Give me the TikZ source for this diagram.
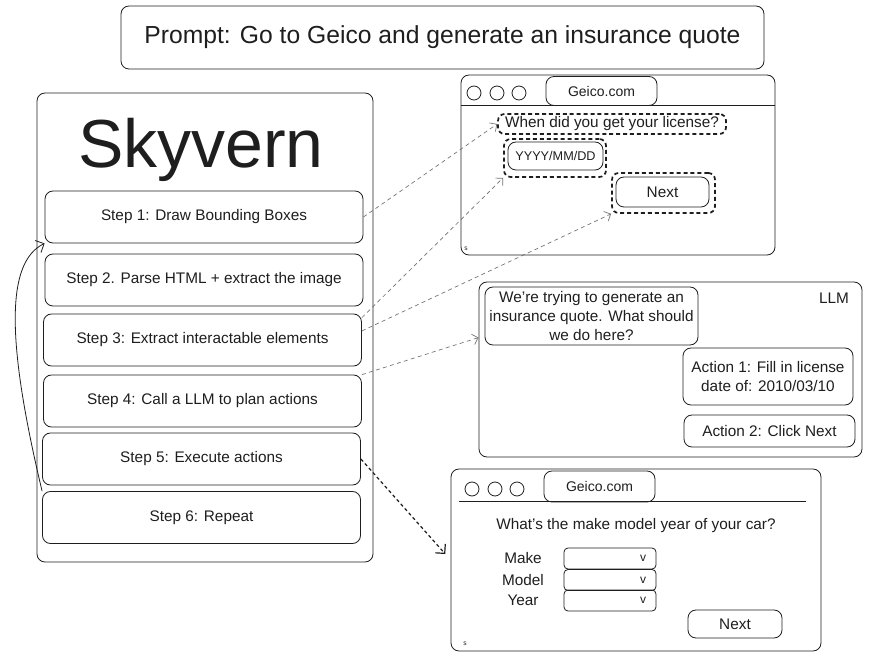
\documentclass[tikz,border=0pt]{standalone}
\usepackage{fontspec}
\setmainfont{Liberation Sans}
\usetikzlibrary{arrows.meta}
\definecolor{ink}{HTML}{1E1E1E}
\definecolor{wire}{HTML}{707070}

\begin{document}
\begin{tikzpicture}[x=0.75pt, y=-0.75pt, line width=0.6pt, text=ink,
    font=\fontsize{11.5}{14}\selectfont,
    wh/.style 2 args={minimum width=#1*0.75pt, minimum height=#2*0.75pt},
    sketch/.style={draw=ink, rounded corners=6pt, inner sep=0pt},
    stepbox/.style={sketch, wh={318}{52}},
    hilite/.style={draw=ink, line width=1.3pt, dash pattern=on 3pt off 2.2pt,
      rounded corners=5pt, inner sep=0pt},
    pointer/.style={draw=wire, line width=0.5pt, dash pattern=on 3pt off 2.5pt,
      -{Straight Barb[length=4pt]}},
    dot/.style={draw=ink, circle, minimum size=10.5pt, inner sep=0pt},
    field/.style={sketch, rounded corners=3pt, wh={92}{21}}]
  \useasboundingbox (0,0) rectangle (869,656);

  \node[sketch, wh={643}{63}, font=\fontsize{18.5}{22}\selectfont] (prompt) at (442.5,37.5)
    {Prompt: Go to Geico and generate an insurance quote};

  \node[sketch, wh={336}{469}] (engine) at (205,327.5) {};
  \node[font=\fontsize{51}{55}\selectfont] (brand) at (201,150) {Skyvern};
  \foreach[count=\i] \txt/\x/\y in
      {{Step 1: Draw Bounding Boxes}/204/217, {Step 2. Parse HTML + extract the image}/204/280,
       {Step 3: Extract interactable elements}/202.5/340, {Step 4: Call a LLM to plan actions}/202.5/401,
       {Step 5: Execute actions}/201.5/459, {Step 6: Repeat}/201.5/517.5} {
    \node[stepbox] (step\i) at (\x,\y) {\txt};
  }
  \draw[ink, -{Straight Barb[length=5pt]}] (step6.north west)
    .. controls (6,340) and (6,262) .. (step1.south west);

  \node[sketch, wh={314}{180}] (page1) at (618,165) {};
  \draw[ink] (461,105) -- (775,105);
  \foreach[count=\i] \x in {474,497,519}
    \node[dot] (knobA\i) at (\x,93) {};
  \node[sketch, wh={111}{29}, font=\fontsize{10.5}{13}\selectfont] (tab1) at (601.5,91) {Geico.com};
  \node[hilite, wh={228}{20}] (ask) at (612,124) {When did you get your license?};
  \node[sketch, wh={95}{28}, font=\fontsize{9.5}{12}\selectfont] (date) at (555.5,156) {YYYY/MM/DD};
  \node[hilite, wh={102}{38}] (datemark) at (555,158) {};
  \node[sketch, wh={93}{30}] (next1) at (662.5,192) {Next};
  \node[hilite, wh={103}{40}] (nextmark) at (663.5,193) {};
  \node[font=\tiny] (corner1) at (466,249) {s};

  \node[sketch, wh={383}{175}] (llm) at (670.5,369.5) {};
  \node (llmtag) at (834,298) {LLM};
  \node[sketch, wh={213}{58}, align=center] (query) at (591.5,316)
    {We're trying to generate an\\insurance quote. What should\\we do here?};
  \node[sketch, wh={170}{57}, align=center] (act1) at (768,376.5)
    {Action 1: Fill in license\\date of: 2010/03/10};
  \node[sketch, wh={171}{32}] (act2) at (769.5,431) {Action 2: Click Next};

  \node[sketch, wh={370}{182}] (page2) at (636,560) {};
  \draw[ink] (459,501) -- (806,501);
  \foreach[count=\i] \x in {472,495,517}
    \node[dot] (knobB\i) at (\x,489) {};
  \node[sketch, wh={111}{31}, font=\fontsize{10.5}{13}\selectfont] (tab2) at (599.5,486.5) {Geico.com};
  \node (carq) at (636,526) {What's the make model year of your car?};
  \foreach[count=\i] \lbl/\y in {Make/558.5, Model/580, Year/600.5} {
    \node (lbl\i) at (523,\y) {\lbl};
    \node[field] (pick\i) at (610,\y) {};
    \node[anchor=east, font=\small] (mark\i) at ([xshift=-4pt]pick\i.east) {v};
  }
  \node[sketch, wh={94}{28}] (next2) at (735,624) {Next};
  \node[font=\tiny] (corner2) at (465,644) {s};

  \draw[pointer] (step1.east) -- (ask.west);
  \draw[pointer] ([yshift=-3pt]step3.north east) -- (datemark.south west);
  \draw[pointer] ([yshift=-13pt]step3.north east) -- (nextmark.south west);
  \draw[pointer] (step4.north east) -- ([yshift=-42pt]llm.north west);
  \draw[ink, line width=0.9pt, dash pattern=on 2.5pt off 2pt, shorten >=6pt,
    -{Straight Barb[length=5pt]}] (step5.east) -- (page2.west);
\end{tikzpicture}
\end{document}
